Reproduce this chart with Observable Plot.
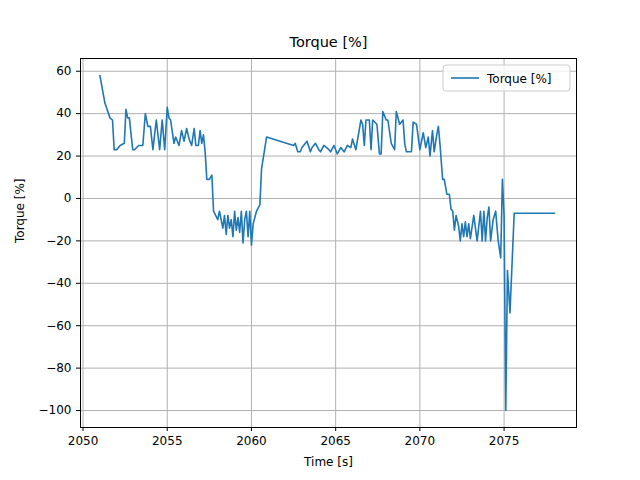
<!DOCTYPE html>
<html><head>
<script src="https://cdn.jsdelivr.net/npm/d3@7"></script>
<script src="https://cdn.jsdelivr.net/npm/@observablehq/plot@0.6"></script>
<style>body{margin:0;background:#fff;font-family:"DejaVu Sans",sans-serif}</style>
</head><body><div id="c"></div>
<script>
const time = [2051.0,2051.3,2051.6,2051.75,2051.85,2052.0,2052.2,2052.45,2052.55,2052.65,2052.75,2052.95,2053.05,2053.3,2053.55,2053.7,2053.85,2054.0,2054.15,2054.35,2054.55,2054.7,2054.85,2055.0,2055.1,2055.2,2055.4,2055.5,2055.7,2055.85,2056.0,2056.15,2056.3,2056.45,2056.6,2056.7,2056.85,2056.95,2057.05,2057.15,2057.25,2057.35,2057.5,2057.65,2057.75,2058.0,2058.1,2058.3,2058.4,2058.5,2058.6,2058.7,2058.8,2058.9,2059.0,2059.1,2059.2,2059.3,2059.4,2059.5,2059.6,2059.7,2059.8,2059.9,2060.0,2060.1,2060.3,2060.5,2060.6,2060.9,2062.5,2062.6,2062.75,2062.9,2063.0,2063.3,2063.5,2063.6,2063.8,2064.0,2064.1,2064.3,2064.6,2064.7,2064.9,2065.1,2065.3,2065.5,2065.7,2065.9,2066.0,2066.2,2066.5,2066.6,2066.7,2066.8,2067.0,2067.1,2067.2,2067.45,2067.6,2067.7,2067.8,2068.0,2068.1,2068.3,2068.5,2068.6,2068.8,2069.0,2069.1,2069.2,2069.4,2069.5,2069.6,2069.8,2070.0,2070.2,2070.35,2070.5,2070.6,2070.75,2070.85,2071.0,2071.1,2071.2,2071.35,2071.45,2071.6,2071.75,2071.85,2071.95,2072.05,2072.15,2072.3,2072.4,2072.5,2072.6,2072.7,2072.8,2072.9,2073.0,2073.2,2073.4,2073.6,2073.7,2073.8,2073.9,2074.0,2074.1,2074.2,2074.35,2074.5,2074.65];
const torque = [58,45,38,37,23,23,25,26,42,38,38,23,23,25,25,40,34,34,23,37,23,37,23,43,38,37,26,29,25,32,27,33,28,25,33,25,25,32,26,30,22,9,9,11,-6,-10,-6,-14,-8,-17,-8,-14,-10,-18,-6,-15,-9,-16,-6,-21,-10,-6,-18,-6,-22,-12,-6,-3,14,29,25,26,22,22,24,27,22,24,26,23,22,25,23,22,25,21,24,22,25,24,28,23,37,35,25,37,37,23,37,35,21,21,41,37,37,26,23,41,35,37,26,22,22,22,36,35,23,31,24,29,20,32,22,30,34,25,9,9,2,2,-5,-6,-15,-8,-13,-20,-12,-18,-11,-18,-12,-19,-8,-20,-6,-20,-6,-20,-9,-4,-20,-10,-6,-20];
const tailTime = [2074.8,2074.9,2075.0,2075.1,2075.2,2075.35,2075.6,2078.0];
const tailTorque = [-28,9,-8,-100,-34,-54,-7,-7];
const n = Math.min(time.length, torque.length);
const data = time.slice(0,n).map((t,i)=>({t, v: torque[i]}))
  .concat(tailTime.map((t,i)=>({t, v: tailTorque[i]})));
const plot = Plot.plot({
  width: 640, height: 480,
  marginLeft: 80, marginRight: 64, marginTop: 58, marginBottom: 53,
  style: {fontFamily: "DejaVu Sans", fontSize: "12px", color: "#000"},
  x: {domain: [2049.85, 2079.3], ticks: [2050,2055,2060,2065,2070,2075], tickFormat: d=>String(d), label: null, tickSize: 4},
  y: {domain: [-108, 66], ticks: d3.range(-100, 61, 20), tickFormat: d => d < 0 ? "\u2212" + (-d) : String(d), label: null, tickSize: 4},
  marks: [
    Plot.gridX([2050,2055,2060,2065,2070,2075], {stroke: "#b0b0b0", strokeOpacity: 1, strokeWidth: 1}),
    Plot.gridY(d3.range(-100, 61, 20), {stroke: "#b0b0b0", strokeOpacity: 1, strokeWidth: 1}),
    Plot.line(data, {x: "t", y: "v", stroke: "#1f77b4", strokeWidth: 1.6}),
    Plot.frame({stroke: "#000"}),
    Plot.text(["Torque [%]"], {frameAnchor: "top", dy: -22, fontSize: 14.5}),
    Plot.text(["Time [s]"], {frameAnchor: "bottom", dy: 38, fontSize: 12}),
    Plot.text(["Torque [%]"], {frameAnchor: "left", dx: -60, rotate: -90, fontSize: 12}),
  ]
});
document.getElementById("c").appendChild(plot);
const svg = d3.select(plot);
const g = svg.append("g").attr("transform","translate(443,65)");
g.append("rect").attr("width",127).attr("height",26).attr("rx",3).attr("fill","#fff").attr("fill-opacity",0.8).attr("stroke","#ccc");
g.append("line").attr("x1",8).attr("x2",36).attr("y1",13).attr("y2",13).attr("stroke","#1f77b4").attr("stroke-width",1.6);
g.append("text").attr("x",44).attr("y",17.5).attr("text-anchor","start").attr("font-size",12).attr("font-family","DejaVu Sans").text("Torque [%]");
</script></body></html>
